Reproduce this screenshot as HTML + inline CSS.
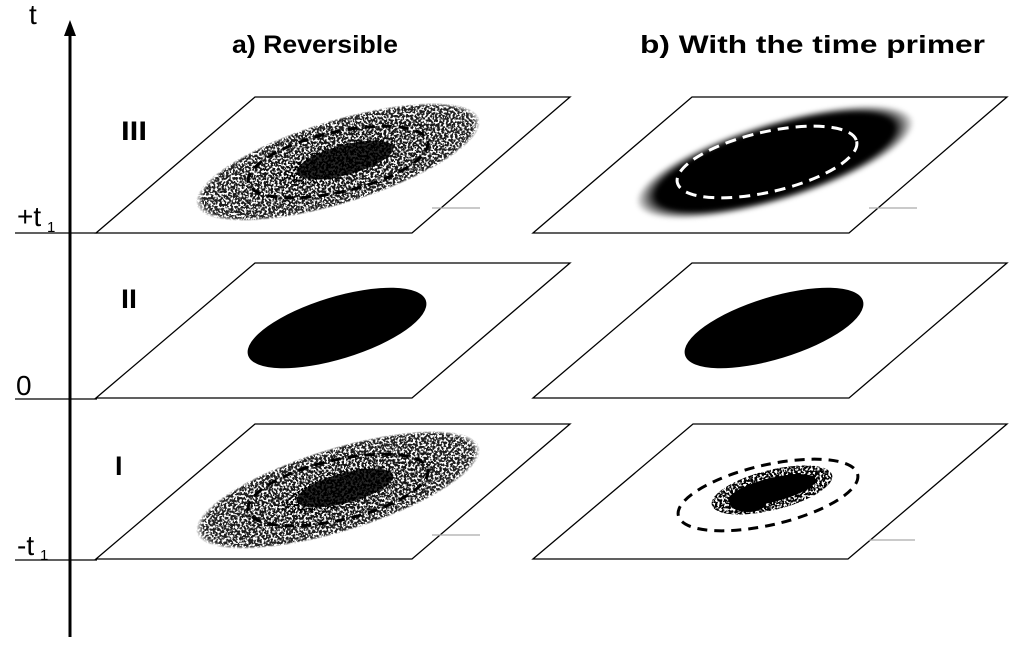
<!DOCTYPE html>
<html><head><meta charset="utf-8"><style>
html,body{margin:0;padding:0;background:#fff;}
svg{display:block;}
text{font-family:"Liberation Sans",Arial,sans-serif;}
</style></head><body>
<svg width="1024" height="656" viewBox="0 0 1024 656" xmlns="http://www.w3.org/2000/svg">
<defs>
<filter id="speck" x="-20%" y="-50%" width="140%" height="200%">
<feTurbulence type="fractalNoise" baseFrequency="0.45" numOctaves="2" seed="3" result="n"/>
<feColorMatrix in="n" type="matrix" values="0 0 0 0 0  0 0 0 0 0  0 0 0 0 0  0 0 0 -9 5.3" result="m"/>
<feComposite in="SourceGraphic" in2="m" operator="in"/>
</filter>
<radialGradient id="cloud" cx="50%" cy="50%" r="50%">
<stop offset="0" stop-color="#000"/>
<stop offset="0.35" stop-color="#000"/>
<stop offset="0.4" stop-color="#111"/>
<stop offset="0.95" stop-color="#222"/>
<stop offset="1" stop-color="#222" stop-opacity="0"/>
</radialGradient>
<radialGradient id="dark" cx="50%" cy="50%" r="50%">
<stop offset="0" stop-color="#000"/>
<stop offset="0.85" stop-color="#000"/>
<stop offset="1" stop-color="#000" stop-opacity="0"/>
</radialGradient>
<filter id="blur"><feGaussianBlur stdDeviation="2"/></filter>
</defs>

<!-- axis -->
<line x1="70" y1="637" x2="70" y2="32" stroke="#000" stroke-width="3"/>
<polygon points="70,20 64,36 76,36" fill="#000"/>
<line x1="15" y1="233" x2="97" y2="233" stroke="#000" stroke-width="1.3"/>
<line x1="15" y1="399" x2="97" y2="399" stroke="#000" stroke-width="1.3"/>
<line x1="15" y1="560" x2="97" y2="560" stroke="#000" stroke-width="1.3"/>
<text x="29" y="24" font-size="28">t</text>
<text x="17" y="226" font-size="28">+t</text>
<text x="47" y="232" font-size="15">1</text>
<text x="16" y="395" font-size="28">0</text>
<text x="17" y="555" font-size="28">-t</text>
<text x="40" y="560" font-size="15">1</text>

<text x="232" y="53" font-size="25" font-weight="bold" textLength="166" lengthAdjust="spacingAndGlyphs">a) Reversible</text>
<text x="640" y="53" font-size="25" font-weight="bold" textLength="345" lengthAdjust="spacingAndGlyphs">b) With the time primer</text>
<text x="121" y="140" font-size="27" font-weight="bold" textLength="26" lengthAdjust="spacingAndGlyphs">III</text>
<text x="121" y="308" font-size="27" font-weight="bold" textLength="16" lengthAdjust="spacingAndGlyphs">II</text>
<text x="115" y="475" font-size="27" font-weight="bold">I</text>

<!-- planes -->
<g fill="#fff" stroke="#000" stroke-width="1.3">
<polygon points="255,97 570,97 412,233 96,233"/>
<polygon points="692,97 1007,97 849,233 533,233"/>
<polygon points="255,263 570,263 412,398 96,398"/>
<polygon points="692,263 1007,263 849,398 533,398"/>
<polygon points="255,424 570,424 412,559 96,559"/>
<polygon points="693,424 1007,424 848,559 533,559"/>
</g>
<g stroke="#aaa" stroke-width="1.2">
<line x1="432" y1="208" x2="480" y2="208"/>
<line x1="869" y1="208" x2="917" y2="208"/>
<line x1="432" y1="535" x2="480" y2="535"/>
<line x1="869" y1="540" x2="915" y2="540"/>
</g>

<!-- II ellipses -->
<ellipse cx="337" cy="328" rx="93" ry="31" transform="rotate(-17 337 328)" fill="#000"/>
<ellipse cx="774" cy="328" rx="93" ry="31" transform="rotate(-17 774 328)" fill="#000"/>

<!-- III left cloud -->
<g filter="url(#speck)">
<ellipse cx="338" cy="162" rx="148" ry="42" transform="rotate(-17 338 162)" fill="url(#cloud)"/>
</g>
<ellipse cx="345" cy="160" rx="50" ry="15" transform="rotate(-15 345 160)" fill="#000" opacity="0.85"/>
<ellipse cx="338" cy="162" rx="92" ry="30" transform="rotate(-13 338 162)" fill="none" stroke="#000" stroke-width="3" stroke-dasharray="10 7"/>

<!-- I left cloud -->
<g filter="url(#speck)">
<ellipse cx="338" cy="490" rx="148" ry="42" transform="rotate(-17 338 490)" fill="url(#cloud)"/>
</g>
<ellipse cx="345" cy="488" rx="50" ry="15" transform="rotate(-15 345 488)" fill="#000" opacity="0.85"/>
<ellipse cx="338" cy="490" rx="92" ry="30" transform="rotate(-13 338 490)" fill="none" stroke="#000" stroke-width="3" stroke-dasharray="10 7"/>

<!-- III right dark -->
<ellipse cx="775" cy="162" rx="145" ry="40" transform="rotate(-17 775 162)" fill="url(#dark)" filter="url(#blur)"/>
<ellipse cx="767" cy="162" rx="92" ry="30" transform="rotate(-13 767 162)" fill="none" stroke="#fff" stroke-width="3" stroke-dasharray="11 7"/>

<!-- I right -->
<g filter="url(#speck)">
<ellipse cx="772" cy="490" rx="62" ry="20" transform="rotate(-14 772 490)" fill="#000"/>
</g>
<ellipse cx="772" cy="490" rx="45" ry="12" transform="rotate(-14 772 490)" fill="#000"/>
<ellipse cx="748" cy="503" rx="18" ry="9" fill="#000"/>
<ellipse cx="768" cy="495" rx="92" ry="30" transform="rotate(-13 768 495)" fill="none" stroke="#000" stroke-width="3" stroke-dasharray="10 7"/>
</svg>
</body></html>
